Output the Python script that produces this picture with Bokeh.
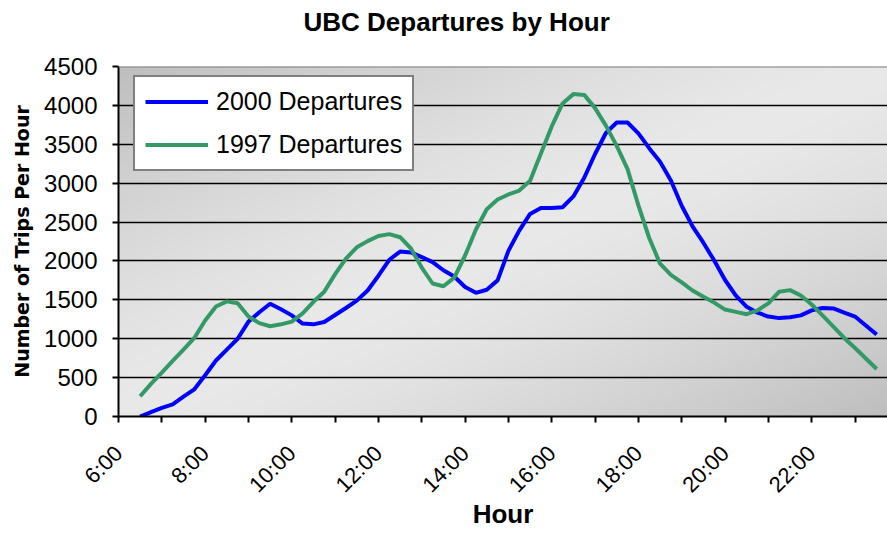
import math
import numpy as np
from bokeh.plotting import figure
from bokeh.models import Range1d, FixedTicker, Span, Legend, LegendItem
from bokeh.embed import file_html
from bokeh.resources import INLINE

# ---------------- data ----------------
times = ["6:30", "6:45", "7:00", "7:15", "7:30", "7:45", "8:00", "8:15", "8:30", "8:45",
         "9:00", "9:15", "9:30", "9:45", "10:00", "10:15", "10:30", "10:45", "11:00", "11:15",
         "11:30", "11:45", "12:00", "12:15", "12:30", "12:45", "13:00", "13:15", "13:30", "13:45",
         "14:00", "14:15", "14:30", "14:45", "15:00", "15:15", "15:30", "15:45", "16:00", "16:15",
         "16:30", "16:45", "17:00", "17:15", "17:30", "17:45", "18:00", "18:15", "18:30", "18:45",
         "19:00", "19:15", "19:30", "19:45", "20:00", "20:15", "20:30", "20:45", "21:00", "21:15",
         "21:30", "21:45", "22:00", "22:15", "22:30", "22:45", "23:00", "23:15", "23:30"]

dep_2000 = [0, 55, 110, 155, 255, 350, 530, 720, 860, 1000,
            1220, 1340, 1450, 1380, 1300, 1195, 1185, 1215, 1305, 1395,
            1490, 1620, 1810, 2015, 2120, 2110, 2050, 1985, 1880, 1800,
            1665, 1590, 1630, 1750, 2130, 2390, 2605, 2680, 2680, 2690,
            2830, 3070, 3375, 3645, 3780, 3780, 3640, 3450, 3275, 3035,
            2710, 2445, 2235, 2005, 1755, 1555, 1410, 1335, 1285, 1265,
            1275, 1300, 1365, 1395, 1390, 1335, 1285, 1170, 1055]

dep_1997 = [260, 420, 565, 715, 860, 1010, 1235, 1415, 1480, 1455,
            1285, 1200, 1160, 1185, 1220, 1325, 1475, 1605, 1830, 2030,
            2175, 2255, 2320, 2345, 2305, 2160, 1915, 1710, 1675, 1785,
            2070, 2405, 2665, 2790, 2855, 2905, 3030, 3380, 3730, 4025,
            4145, 4135, 3965, 3740, 3480, 3180, 2715, 2295, 1965, 1820,
            1725, 1620, 1540, 1465, 1375, 1345, 1315, 1365, 1455, 1605,
            1625, 1555, 1440, 1300, 1155, 1010, 880, 745, 610]

major_hours = [6, 8, 10, 12, 14, 16, 18, 20, 22]
minor_hours = [7, 9, 11, 13, 15, 17, 19, 21, 23]
hour_labels = ["6:00", "8:00", "10:00", "12:00", "14:00", "16:00", "18:00", "20:00", "22:00"]
y_ticks = [0, 500, 1000, 1500, 2000, 2500, 3000, 3500, 4000, 4500]

title_text = "UBC Departures by Hour"
x_title = "Hour"
y_title = "Number of Trips Per Hour"

hours = [int(t.split(":")[0]) + int(t.split(":")[1]) / 60 for t in times]

X0, X1 = 6, 23.75
Y0, Y1 = 0, 4500
FW, FH = 769, 350

p = figure(frame_width=FW, frame_height=FH, output_backend="svg", toolbar_location=None,
           x_range=Range1d(X0, X1), y_range=Range1d(Y0, Y1),
           min_border_left=118, min_border_right=0, min_border_top=66, min_border_bottom=117,
           background_fill_color="#e6e6e6", border_fill_color="white")
p.outline_line_color = None

# ---------------- background gradient ----------------
H, W = 175, 385
rows = (np.arange(H) + 0.5) / H
cols = (np.arange(W) + 0.5) / W
fy_top = 1 - rows[:, None]
fx = cols[None, :]
u = (fx + fy_top) / 2
light, dark = 233, 190
b = (light - (light - dark) * np.abs(2 * u - 1) ** 1.4).astype(np.uint8)
img = np.empty((H, W), dtype=np.uint32)
view = img.view(dtype=np.uint8).reshape((H, W, 4))
view[:, :, 0] = b
view[:, :, 1] = b
view[:, :, 2] = b
view[:, :, 3] = 255
p.image_rgba(image=[img], x=X0, y=Y0, dw=X1 - X0, dh=Y1 - Y0, level="image")

# ---------------- grid ----------------
p.xgrid.visible = False
p.ygrid.ticker = FixedTicker(ticks=y_ticks)
p.ygrid.grid_line_color = "black"
p.ygrid.grid_line_width = 1.5

p.add_layout(Span(location=Y1, dimension="width", line_color="#808080", line_width=2))

# ---------------- lines ----------------
r2000 = p.line(hours, dep_2000, line_color="#0000FF", line_width=4)
r1997 = p.line(hours, dep_1997, line_color="#339966", line_width=4)

# ---------------- axes ----------------
FONT = "Liberation Sans"
xa = p.xaxis[0]
xa.ticker = FixedTicker(ticks=major_hours, minor_ticks=minor_hours)
xa.major_label_overrides = {h: lab for h, lab in zip(major_hours, hour_labels)}
xa.major_label_orientation = math.pi / 4
xa.major_label_text_font = FONT
xa.major_label_text_font_size = "22px"
xa.major_label_text_color = "black"
xa.major_label_standoff = 27
xa.axis_line_width = 2
xa.axis_line_color = "black"
xa.major_tick_line_width = 2
xa.minor_tick_line_width = 2
xa.major_tick_line_color = "black"
xa.minor_tick_line_color = "black"
xa.major_tick_out = 6
xa.major_tick_in = 0
xa.minor_tick_out = 6
xa.minor_tick_in = 0
xa.axis_label = x_title
xa.axis_label_text_font = FONT
xa.axis_label_text_font_style = "bold"
xa.axis_label_text_font_size = "26px"
xa.axis_label_text_color = "black"
xa.axis_label_standoff = -10

ya = p.yaxis[0]
ya.ticker = FixedTicker(ticks=y_ticks)
ya.major_label_text_font = FONT
ya.major_label_text_font_size = "24px"
ya.major_label_text_color = "black"
ya.major_label_standoff = 15
ya.axis_line_width = 2
ya.axis_line_color = "black"
ya.major_tick_line_width = 2
ya.major_tick_line_color = "black"
ya.major_tick_out = 6
ya.major_tick_in = 0
ya.minor_tick_line_color = None
ya.axis_label = y_title
ya.axis_label_text_font = "DejaVu Sans"
ya.axis_label_text_font_style = "bold"
ya.axis_label_text_font_size = "19px"
ya.axis_label_text_color = "black"
ya.axis_label_standoff = 8

# ---------------- title (an empty second line lifts it above the frame) ----------------
p.title.text = title_text + "\n "
p.title.align = "left"
p.title.offset = 185
p.title.vertical_align = "bottom"
p.title.standoff = 0
p.title.text_font = FONT
p.title.text_font_style = "bold"
p.title.text_font_size = "26px"
p.title.text_color = "black"

# ---------------- legend ----------------
legend = Legend(items=[LegendItem(label="2000 Departures", renderers=[r2000]),
                       LegendItem(label="1997 Departures", renderers=[r1997])],
                location=(15, 245), orientation="vertical",
                label_text_font=FONT, label_text_font_size="25px", label_text_color="black",
                glyph_width=63, glyph_height=29, label_height=29, label_standoff=8,
                spacing=14, padding=10, margin=0,
                border_line_color="black", border_line_width=2,
                background_fill_color="white", background_fill_alpha=1.0)
p.add_layout(legend)

open("out.html", "w").write(file_html(p, INLINE))
